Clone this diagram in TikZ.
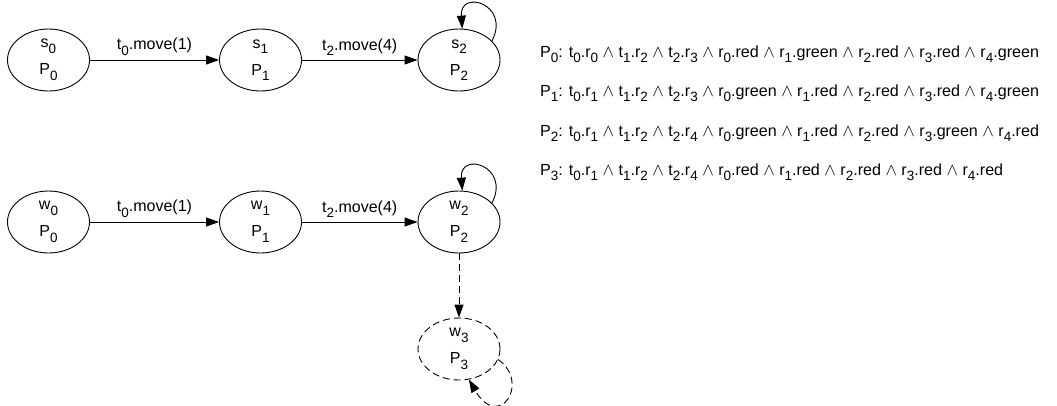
\documentclass[tikz,border=0pt]{standalone}
\usepackage{fontspec}
\setmainfont{Liberation Sans}
\usetikzlibrary{arrows.meta,shapes.geometric}
\newcommand{\lo}[1]{\raisebox{-5.5pt}{\fontsize{13.5}{13.5}\selectfont #1}}
\newcommand{\aand}{ \ensuremath{\wedge} }
\begin{document}
\begin{tikzpicture}[x=1pt,y=-1pt,
  font=\fontsize{16}{19}\selectfont,
  state/.style={ellipse, draw, line width=0.9pt, minimum width=82pt, minimum height=62pt,
    inner sep=0pt, align=center, font=\fontsize{16}{27}\selectfont},
  dstate/.style={state, dash pattern=on 7pt off 4pt},
  trans/.style={-{Triangle[length=13pt,width=9pt]}, line width=0.9pt},
  dtrans/.style={trans, dash pattern=on 7pt off 4pt},
  elabel/.style={above=3pt, midway, inner sep=1pt},
  pred/.style={anchor=base west, inner sep=0pt, font=\fontsize{16.1}{19}\selectfont}]
\useasboundingbox (0,0) rectangle (1057,405);

\node[state] (s0) at (48.5,60) {s\lo{0}\\P\lo{0}};
\node[state] (s1) at (260.5,60) {s\lo{1}\\P\lo{1}};
\node[state] (s2) at (459,60) {s\lo{2}\\P\lo{2}};

\node[state] (w0) at (48.5,222) {w\lo{0}\\P\lo{0}};
\node[state] (w1) at (260.5,222) {w\lo{1}\\P\lo{1}};
\node[state] (w2) at (459,222) {w\lo{2}\\P\lo{2}};
\node[dstate] (w3) at (459,349) {w\lo{3}\\P\lo{3}};

\draw[trans] (s0) -- node[elabel] (ls01) {t\lo{0}.move(1)} (s1);
\draw[trans] (s1) -- node[elabel] (ls12) {t\lo{2}.move(4)} (s2);
\draw[trans] (s2.30) .. controls +(19,-37) and +(-3,-40) .. (s2.84);

\draw[trans] (w0) -- node[elabel] (lw01) {t\lo{0}.move(1)} (w1);
\draw[trans] (w1) -- node[elabel] (lw12) {t\lo{2}.move(4)} (w2);
\draw[trans] (w2.30) .. controls +(19,-37) and +(-3,-40) .. (w2.84);
\draw[dtrans] (w2) -- (w3);
\draw[dtrans] (w3.-15) .. controls +(33,23) and +(30,52) .. (w3.-72);

\node[pred] (p0) at (540,57) {P\lo{0}: t\lo{0}.r\lo{0}\aand t\lo{1}.r\lo{2}\aand t\lo{2}.r\lo{3}\aand r\lo{0}.red\aand r\lo{1}.green\aand r\lo{2}.red\aand r\lo{3}.red\aand r\lo{4}.green};
\node[pred] (p1) at (540,96) {P\lo{1}: t\lo{0}.r\lo{1}\aand t\lo{1}.r\lo{2}\aand t\lo{2}.r\lo{3}\aand r\lo{0}.green\aand r\lo{1}.red\aand r\lo{2}.red\aand r\lo{3}.red\aand r\lo{4}.green};
\node[pred] (p2) at (540,136) {P\lo{2}: t\lo{0}.r\lo{1}\aand t\lo{1}.r\lo{2}\aand t\lo{2}.r\lo{4}\aand r\lo{0}.green\aand r\lo{1}.red\aand r\lo{2}.red\aand r\lo{3}.green\aand r\lo{4}.red};
\node[pred] (p3) at (540,175) {P\lo{3}: t\lo{0}.r\lo{1}\aand t\lo{1}.r\lo{2}\aand t\lo{2}.r\lo{4}\aand r\lo{0}.red\aand r\lo{1}.red\aand r\lo{2}.red\aand r\lo{3}.red\aand r\lo{4}.red};
\end{tikzpicture}
\end{document}
